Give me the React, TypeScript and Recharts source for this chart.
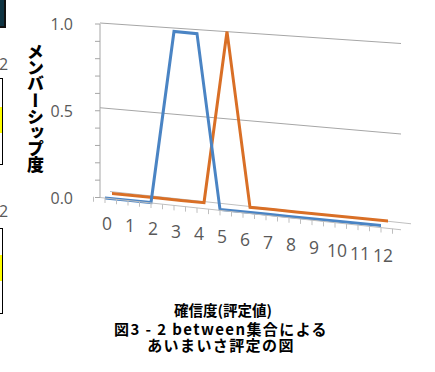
import { LineChart, Line, XAxis, YAxis, ReferenceLine } from 'recharts';

// ---- data ----
const categories = ['0', '1', '2', '3', '4', '5', '6', '7', '8', '9', '10', '11', '12'];
const frontSeries = [0, 0, 0, 1, 1, 0, 0, 0, 0, 0, 0, 0, 0];
const backSeries = [0, 0, 0, 0, 0, 1, 0, 0, 0, 0, 0, 0, 0];
const yTicks = [0, 0.1, 0.2, 0.3, 0.4, 0.5, 0.6, 0.7, 0.8, 0.9, 1.0];
const yLabelled = [0, 0.5, 1.0];

const chartData = categories.map((c, i) => ({
  cat: c,
  front: frontSeries[i],
  back: backSeries[i],
}));

// ---- layout ----
const W = 435;
const H = 372;
const PLOT_TOP = 24;
const PLOT_BOTTOM = 197.5;
const PLOT_LEFT = 100;
const PLOT_RIGHT = 401;
const PAD_L = 5;
const PAD_R = 20;
const HALF = (PLOT_RIGHT - PAD_R - (PLOT_LEFT + PAD_L)) / (categories.length - 1) / 2;
const FIRST_X = PLOT_LEFT + PAD_L;

const BLUE = '#4a84c4';
const ORANGE = '#d96f26';
const GRID = '#a6a6a6';
const FLOOR = '#bfbfbf';
const TXT = '#595959';
const NUM_FONT = '"Open Sans", "Noto Sans", sans-serif';
const JP_FONT = '"Noto Sans CJK JP", "Noto Sans CJK SC", sans-serif';

const css = `
.skew-front { transform-origin: ${FIRST_X}px 0px; transform: translate(0px, 0.5px) skewY(5.71deg); }
.skew-back { transform-origin: ${FIRST_X}px 0px; transform: translate(7px, -4px) skewY(5.71deg); }
.grid-top { transform-origin: ${PLOT_LEFT}px 0px; transform: translate(0px, -1px) skewY(3.9deg); }
.grid-mid { transform-origin: ${PLOT_LEFT}px 0px; transform: translate(0px, -3px) skewY(5.0deg); }
.floor-back { transform-origin: ${PLOT_LEFT}px 0px; transform: translate(10px, -6px) skewY(6.1deg); }
.floor-skew, .recharts-xAxis .recharts-cartesian-axis-line { transform-origin: ${PLOT_LEFT}px 0px; transform: skewY(6.1deg); }
`;

const XTick = (props: any) => {
  const { x, index, payload } = props;
  const labelY = PLOT_BOTTOM + 25 + 0.119 * (x - FIRST_X);
  return (
    <g>
      <g className="floor-skew">
        <line x1={x} y1={PLOT_BOTTOM} x2={x} y2={PLOT_BOTTOM + 5} stroke={FLOOR} />
        <line x1={x - HALF} y1={PLOT_BOTTOM} x2={x - HALF} y2={PLOT_BOTTOM + 5} stroke={FLOOR} />
        {index === categories.length - 1 && (
          <line x1={x + HALF} y1={PLOT_BOTTOM} x2={x + HALF} y2={PLOT_BOTTOM + 5} stroke={FLOOR} />
        )}
      </g>
      <text
        x={x + 2}
        y={labelY}
        textAnchor="middle"
        dominantBaseline="central"
        fill={TXT}
        fontSize={17.5}
        fontFamily={NUM_FONT}
      >
        {payload.value}
      </text>
    </g>
  );
};

const YTick = (props: any) => {
  const { x, y, payload } = props;
  if (!yLabelled.some((v) => Math.abs(v - payload.value) < 1e-6)) return <g />;
  return (
    <text
      x={x - 20}
      y={y}
      textAnchor="end"
      dominantBaseline="central"
      fill={TXT}
      fontSize={16}
      fontFamily={NUM_FONT}
    >
      {payload.value.toFixed(1)}
    </text>
  );
};

const abs = (s: React.CSSProperties): React.CSSProperties => ({ position: 'absolute', ...s });

export default function App() {
  return (
    <div style={{ position: 'absolute', left: 0, top: 0, width: W, height: H, overflow: 'hidden', background: '#fff' }}>
      <style>{css}</style>

      {/* cropped neighbours on the left edge */}
      <div style={abs({ left: -20, top: -4, width: 22, height: 28, background: '#0f3442', border: '2px solid #111' })} />
      <div style={abs({ left: -1, top: 53, fontSize: 16, color: TXT, fontFamily: NUM_FONT })}>2</div>
      <div style={abs({ left: -20, top: 78, width: 21, height: 85, background: '#fff', border: '1.5px solid #000' })}>
        <div style={abs({ left: 0, top: 28, width: 21, height: 26, background: '#ffff00' })} />
      </div>
      <div style={abs({ left: -1, top: 200, fontSize: 16, color: TXT, fontFamily: NUM_FONT })}>2</div>
      <div style={abs({ left: -20, top: 228, width: 21, height: 84, background: '#fff', border: '1.5px solid #000' })}>
        <div style={abs({ left: 0, top: 26, width: 21, height: 26, background: '#ffff00' })} />
      </div>

      <div style={abs({ left: 0, top: 0 })}>
        <LineChart
          width={W}
          height={H}
          data={chartData}
          margin={{ top: PLOT_TOP, right: W - PLOT_RIGHT, bottom: H - PLOT_BOTTOM - 30, left: 0 }}
        >
          <ReferenceLine y={0} className="floor-back" stroke={FLOOR} strokeWidth={1} ifOverflow="visible" />
          <ReferenceLine y={0.5} className="grid-mid" stroke={GRID} strokeWidth={1} ifOverflow="visible" />
          <ReferenceLine y={1} className="grid-top" stroke={GRID} strokeWidth={1} ifOverflow="visible" />
          <XAxis
            dataKey="cat"
            height={30}
            padding={{ left: PAD_L, right: PAD_R }}
            axisLine={{ stroke: FLOOR }}
            tickLine={false}
            interval={0}
            tick={<XTick />}
          />
          <YAxis
            width={PLOT_LEFT}
            domain={[0, 1]}
            ticks={yTicks}
            interval={0}
            tickSize={5}
            axisLine={{ stroke: GRID }}
            tickLine={{ stroke: GRID }}
            tick={<YTick />}
          />
          <Line
            className="skew-back"
            dataKey="back"
            stroke={ORANGE}
            strokeWidth={3}
            dot={false}
            isAnimationActive={false}
          />
          <Line
            className="skew-front"
            dataKey="front"
            stroke={BLUE}
            strokeWidth={3}
            dot={false}
            isAnimationActive={false}
          />
        </LineChart>
      </div>

      <div
        style={abs({
          left: 25,
          top: 43,
          writingMode: 'vertical-rl',
          textOrientation: 'upright',
          fontSize: 17,
          fontWeight: 900,
          letterSpacing: -0.8,
          lineHeight: '20px',
          fontFamily: JP_FONT,
          color: '#000',
        })}
      >
        メンバーシップ度
      </div>

      <div style={abs({ left: 0, top: 301, width: 446, textAlign: 'center', fontSize: 14.5, fontWeight: 700, fontFamily: JP_FONT, lineHeight: '17px', color: '#000' })}>
        確信度(評定値)
      </div>
      <div style={abs({ left: 0, top: 321, width: 442, textAlign: 'center', fontSize: 15, fontWeight: 700, letterSpacing: 1.4, fontFamily: JP_FONT, lineHeight: '16px', color: '#000' })}>
        図3 - 2 between集合による
        <br />
        あいまいさ評定の図
      </div>
    </div>
  );
}
